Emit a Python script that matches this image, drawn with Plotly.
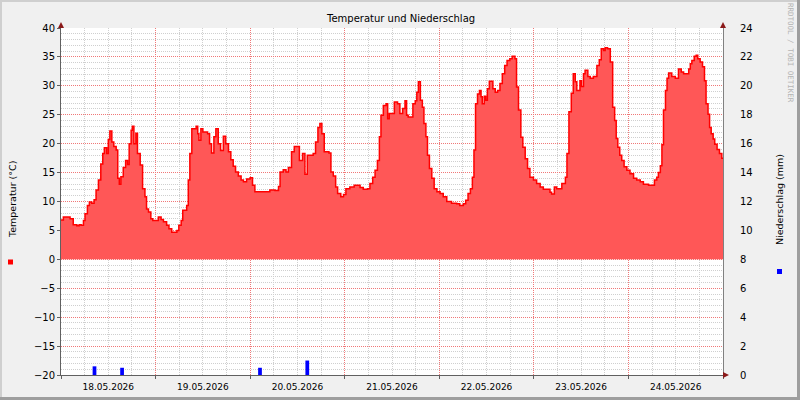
import pandas as pd
import plotly.graph_objects as go

# ---------------- data ----------------
start = pd.Timestamp("2026-05-18 00:00")
n_days = 7

temp_hours = [0, 0.6, 2.3, 3.1, 4.0, 4.6, 5.1, 5.7, 6.1, 6.7, 7.2, 7.8, 8.4, 8.9, 9.5, 10.1, 10.6, 11.0, 11.6, 12.0,
              12.4, 12.9, 13.4, 14.0, 14.4, 14.8, 15.2, 15.8, 16.4, 16.9, 17.3, 17.8, 18.1, 18.5, 19.0, 19.4, 20.1, 20.7, 21.3, 21.7,
              22.2, 22.8, 23.3, 24.7, 25.4, 26.0, 26.8, 27.4, 28.1, 29.4, 29.9, 30.5, 30.9, 31.9, 32.3, 32.7, 33.2, 34.3, 34.7, 35.0,
              35.5, 36.0, 37.2, 37.7, 38.2, 38.8, 39.3, 39.9, 40.5, 41.2, 41.8, 42.5, 43.1, 43.7, 44.3, 45.0, 45.7, 46.3, 47.1, 48.0,
              48.6, 49.2, 53.0, 54.3, 55.2, 55.6, 56.4, 57.1, 57.7, 58.5, 59.2, 60.5, 61.3, 61.9, 62.5, 64.0, 64.6, 65.2, 65.7, 66.2,
              66.8, 68.0, 68.5, 69.1, 69.7, 70.2, 71.0, 71.7, 72.3, 73.3, 74.4, 75.9, 76.7, 77.8, 78.4, 79.1, 79.7, 80.3, 80.8, 81.2,
              81.8, 82.5, 82.9, 83.3, 84.6, 85.4, 86.0, 86.7, 87.3, 87.7, 88.1, 89.3, 89.9, 90.3, 90.7, 91.2, 91.7, 92.1, 92.6, 93.0,
              93.5, 94.1, 94.7, 95.4, 96.2, 97.0, 97.9, 99.1, 100.4, 101.2, 102.1, 102.7, 103.3, 103.9, 104.4, 104.8, 105.2, 105.7, 106.2, 106.6,
              106.9, 107.4, 107.8, 108.2, 108.7, 109.6, 110.2, 110.8, 111.4, 112.0, 112.6, 113.2, 113.9, 114.5, 115.2, 115.6, 116.1, 116.7, 117.2, 117.8,
              118.4, 119.0, 119.9, 120.7, 121.6, 122.4, 124.1, 124.5, 125.2, 125.8, 127.1, 128.0, 128.4, 128.9, 129.5, 130.0, 130.5, 130.9, 131.7, 132.1,
              132.6, 133.0, 133.7, 134.3, 135.1, 136.0, 136.6, 137.1, 137.7, 138.1, 138.7, 139.4, 140.0, 140.5, 140.9, 141.3, 141.8, 142.3, 142.9, 143.6,
              144.4, 145.3, 146.1, 147.0, 147.8, 149.1, 150.6, 151.2, 151.6, 152.1, 152.5, 152.9, 153.4, 153.8, 154.2, 155.0, 155.9, 156.7, 157.4, 158.0,
              159.3, 159.7, 160.1, 160.7, 161.2, 161.6, 162.2, 162.8, 163.3, 163.7, 164.2, 164.6, 165.0, 165.5, 165.9, 166.5, 167.1, 167.7, 168]

temp_values = [6.8, 7.3, 7.0, 6.0, 5.8, 6.0, 5.9, 6.7, 7.9, 9.3, 9.9, 9.7, 10.3, 12.0, 13.7, 16.5, 18.3, 19.3, 18.3, 20.7,
               22.2, 20.3, 19.5, 18.9, 14.0, 13.0, 14.3, 15.9, 17.1, 16.4, 20.0, 22.3, 23.0, 20.0, 21.8, 18.3, 16.3, 12.2, 10.8, 8.7,
               8.2, 7.0, 6.7, 7.3, 6.9, 6.5, 5.9, 5.3, 4.7, 5.0, 5.9, 6.7, 8.5, 9.3, 13.7, 18.3, 22.6, 23.0, 21.7, 20.6,
               22.6, 22.0, 21.7, 20.0, 18.4, 21.2, 22.6, 20.0, 18.8, 21.3, 20.0, 18.6, 17.2, 16.1, 15.1, 14.4, 13.7, 13.4, 13.9, 14.1,
               12.8, 11.7, 12.0, 11.9, 12.6, 15.1, 15.5, 15.1, 15.9, 18.6, 19.5, 17.1, 18.3, 14.7, 18.0, 18.3, 20.3, 22.8, 23.5, 21.7,
               18.6, 18.4, 15.1, 14.4, 12.5, 11.4, 10.8, 11.2, 12.2, 12.5, 12.8, 12.4, 12.1, 12.2, 13.1, 14.2, 15.4, 17.1, 21.2, 24.9,
               26.6, 26.9, 24.3, 25.2, 27.2, 26.9, 25.2, 26.1, 27.4, 24.9, 24.6, 26.9, 27.4, 28.9, 30.7, 27.5, 26.3, 23.5, 21.2, 18.0,
               15.7, 14.0, 12.2, 11.7, 11.4, 10.8, 10.0, 9.7, 9.6, 9.3, 9.6, 10.2, 11.4, 12.2, 14.2, 18.9, 26.9, 28.6, 29.2, 28.1,
               26.9, 28.2, 27.5, 29.5, 30.8, 29.5, 28.9, 29.2, 30.4, 32.1, 33.5, 34.4, 34.7, 35.1, 34.7, 29.8, 25.8, 21.1, 19.4, 17.4,
               15.7, 14.2, 13.7, 13.1, 12.5, 12.1, 11.6, 11.3, 12.5, 12.2, 13.1, 14.2, 18.3, 25.5, 28.7, 32.1, 30.7, 29.2, 30.9, 29.9,
               32.1, 32.7, 31.6, 31.3, 31.6, 33.5, 34.5, 36.4, 36.1, 36.6, 36.4, 34.1, 26.3, 24.0, 20.9, 19.4, 18.0, 17.1, 16.0, 15.4,
               14.8, 14.0, 13.7, 13.4, 13.0, 12.8, 13.7, 14.2, 15.0, 16.2, 19.8, 25.8, 29.2, 31.3, 32.2, 31.6, 31.3, 32.9, 32.4, 32.1,
               32.9, 33.8, 34.4, 35.1, 35.3, 34.7, 34.1, 33.3, 30.9, 26.9, 25.1, 22.8, 21.7, 20.8, 19.9, 19.0, 18.3, 17.5, 17.4]

rain_hours = [8, 15, 50, 62]          # start hour of each rainy hour
rain_mm = [0.6, 0.5, 0.5, 1.0]

title_text = "Temperatur und Niederschlag"
left_title = "Temperatur (°C)"
right_title = "Niederschlag (mm)"
watermark = "RRDTOOL / TOBI OETIKER"

assert len(temp_hours) == len(temp_values), (len(temp_hours), len(temp_values))

# ---------------- figure ----------------
W, H = 800, 400
L, R, T, B = 61, 723, 28, 375


def px(xp):
    return (xp - L) / (R - L)


def py(yp):
    return (B - yp) / (B - T)


t_temp = start + pd.to_timedelta(temp_hours, unit="h")
t_rain = start + pd.to_timedelta([h + 0.5 for h in rain_hours], unit="h")

# minor grid positions that do not coincide with major ones
x_minor = [start + pd.Timedelta(hours=h) for h in range(0, n_days * 24 + 1, 6) if h % 24 != 0]
y_minor = [v for v in range(-20, 41) if v % 5 != 0]

FONT = "DejaVu Sans"
MAJ = "#F07878"
MIN = "#CFCFCF"
DASH = "1px,1px"

fig = go.Figure()
fig.add_trace(go.Scatter(
    x=t_temp, y=temp_values, mode="lines",
    line=dict(color="#FF0000", width=1.5, shape="hv"),
    fill="tozeroy", fillcolor="#FF5757", yaxis="y", hoverinfo="skip"))
fig.add_trace(go.Bar(
    x=t_rain, y=rain_mm, width=3600000 * 0.95,
    marker=dict(color="#0000FF", line=dict(width=0)), yaxis="y2"))

fig.update_layout(
    width=W, height=H,
    margin=dict(l=L, r=W - R, t=T, b=H - B, pad=0, autoexpand=False),
    paper_bgcolor="#F0F0F0", plot_bgcolor="#FFFFFF",
    showlegend=False, barmode="overlay",
    font=dict(family=FONT, size=9, color="#000000"),
    xaxis=dict(
        type="date", range=[start, start + pd.Timedelta(days=n_days)],
        tick0=start, dtick=86400000, ticklabelmode="period", tickformat="%d.%m.%Y",
        showgrid=True, gridcolor=MAJ, griddash=DASH, gridwidth=1,
        minor=dict(tickmode="array", tickvals=x_minor, showgrid=True,
                   gridcolor=MIN, griddash=DASH, gridwidth=1),
        showline=True, linecolor="#606060", linewidth=1, automargin=False,
        ticks="outside", ticklen=3, tickcolor="#606060",
        tickfont=dict(family=FONT, size=9, color="#000000"), zeroline=False),
    yaxis=dict(
        range=[-20, 40], dtick=5, tick0=0,
        showgrid=True, gridcolor=MAJ, griddash=DASH, gridwidth=1,
        minor=dict(tickmode="array", tickvals=y_minor, showgrid=True,
                   gridcolor=MIN, griddash=DASH, gridwidth=1),
        showline=True, linecolor="#606060", linewidth=1, automargin=False,
        ticks="outside", ticklen=3, tickcolor="#606060",
        tickfont=dict(family=FONT, size=10, color="#000000"), zeroline=False),
    yaxis2=dict(
        range=[0, 24], dtick=2, tick0=0, overlaying="y", side="right",
        showgrid=False, zeroline=False, automargin=False,
        showline=True, linecolor="#808080", linewidth=1,
        ticks="", ticklabelstandoff=14,
        tickfont=dict(family=FONT, size=10, color="#000000")),
)

ann = [
    dict(text=title_text, x=px(400), y=py(19), xref="paper", yref="paper",
         showarrow=False, font=dict(family=FONT, size=10, color="#000000"),
         xanchor="center", yanchor="middle"),
    dict(text=left_title, x=px(12), y=py(200), xref="paper", yref="paper",
         showarrow=False, textangle=-90, font=dict(family=FONT, size=9.5, color="#000000"),
         xanchor="center", yanchor="middle"),
    dict(text=right_title, x=px(779), y=py(200), xref="paper", yref="paper",
         showarrow=False, textangle=-90, font=dict(family=FONT, size=9.5, color="#000000"),
         xanchor="center", yanchor="middle"),
    dict(text=watermark, x=px(791), y=py(53), xref="paper", yref="paper",
         showarrow=False, textangle=90, font=dict(family="DejaVu Sans Mono", size=7.5, color="#B4B4B4"),
         xanchor="center", yanchor="middle"),
]
fig.update_layout(annotations=ann)


def rect(x0, y0, x1, y1, color):
    return dict(type="rect", xref="paper", yref="paper",
                x0=px(x0), x1=px(x1), y0=py(y0), y1=py(y1),
                fillcolor=color, line=dict(width=0), layer="above")


def tri(points, color):
    path = "M " + " L ".join(f"{px(a)},{py(b)}" for a, b in points) + " Z"
    return dict(type="path", xref="paper", yref="paper", path=path,
                fillcolor=color, line=dict(width=0), layer="above")


ARROW = "#8B1A1A"
shapes = [
    rect(0, 0, 800, 2, "#CFCFCF"),
    rect(0, 0, 2, 400, "#CFCFCF"),
    rect(797, 0, 800, 400, "#9E9E9E"),
    rect(0, 397, 800, 400, "#9E9E9E"),
    rect(8, 259.5, 13, 264.5, "#FF0000"),
    rect(777, 269, 782, 274, "#0000FF"),
    tri([(58, 28), (64, 28), (61, 22)], ARROW),
    tri([(720, 28), (726, 28), (723, 22)], ARROW),
    tri([(723, 372), (723, 378), (729, 375)], ARROW),
]
fig.update_layout(shapes=shapes)

fig.write_html("out.html")
